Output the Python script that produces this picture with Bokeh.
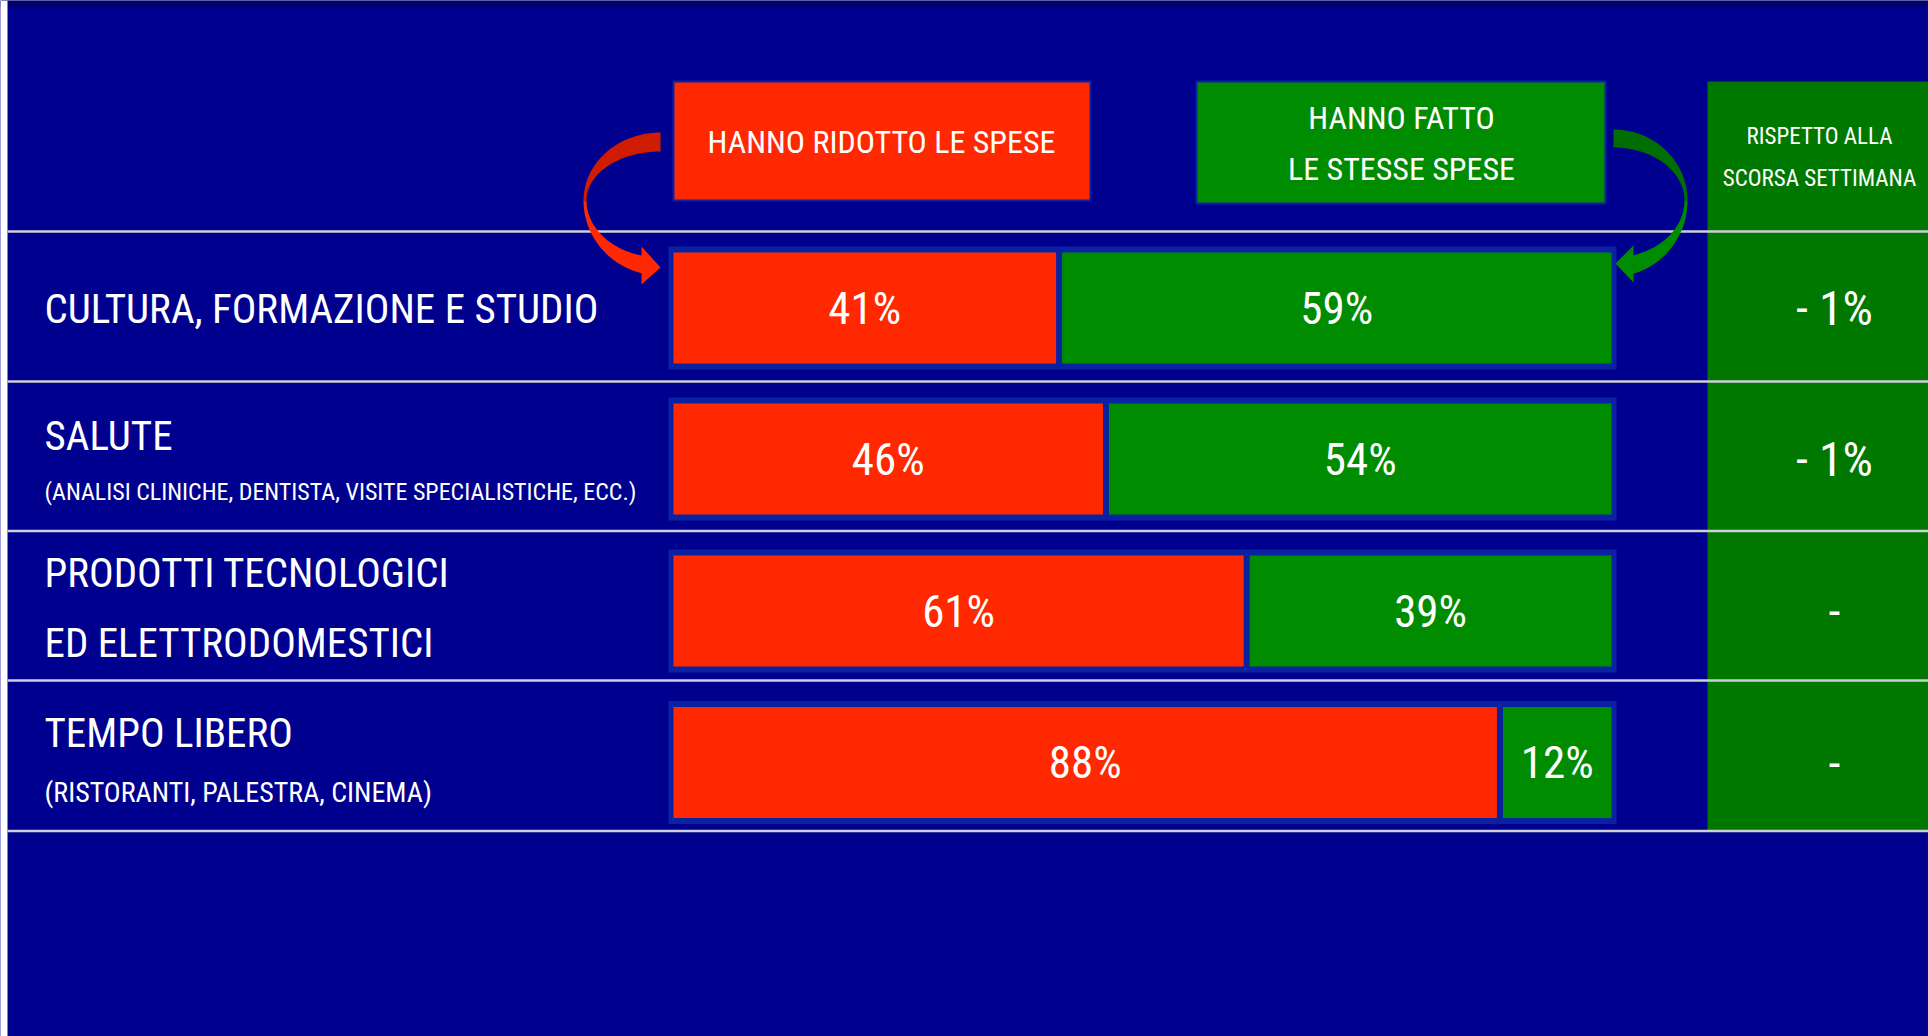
import numpy as np
from bokeh.plotting import figure
from bokeh.models import Range1d, ColumnDataSource
from bokeh.core.properties import value
from bokeh.embed import file_html
from bokeh.resources import INLINE

# ---------------- data ----------------
categories = ["CULTURA, FORMAZIONE E STUDIO", "SALUTE",
              "PRODOTTI TECNOLOGICI\nED ELETTRODOMESTICI", "TEMPO LIBERO"]
subtitles = ["", "(ANALISI CLINICHE, DENTISTA, VISITE SPECIALISTICHE, ECC.)",
             "", "(RISTORANTI, PALESTRA, CINEMA)"]
ridotto = [41, 46, 61, 88]          # hanno ridotto le spese (%)
stesse = [59, 54, 39, 12]           # hanno fatto le stesse spese (%)
variazione = ["- 1%", "- 1%", "-", "-"]  # rispetto alla scorsa settimana
header_ridotto = ["HANNO RIDOTTO LE SPESE"]
header_stesse = ["HANNO FATTO", "LE STESSE SPESE"]
header_var = ["RISPETTO ALLA", "SCORSA SETTIMANA"]

# ---------------- style ----------------
BG = "#00008f"
TOP_STRIP = "#000066"
RED = "#ff2800"
RED_DARK = "#d01c00"
GREEN = "#008c00"
GREEN_DARK = "#006e00"
COL_GREEN = "#007800"
FRAME = "#0a22a2"
LINE = "#cfcfd8"
FONT = value("'Roboto Condensed', 'Liberation Sans Narrow', 'DejaVu Sans Condensed', 'Open Sans', sans-serif")

W, H = 1928, 1036

p = figure(width=W, height=H, x_range=Range1d(0, W), y_range=Range1d(H, 0),
           output_backend="svg", toolbar_location=None, min_border=0,
           x_axis_location=None, y_axis_location=None)
p.grid.visible = False
p.outline_line_color = None
p.background_fill_color = BG
p.border_fill_color = BG

# page edges as in the reference
p.quad(left=0, right=W, top=0, bottom=6, fill_color=TOP_STRIP, line_color=None)
p.quad(left=0, right=7, top=0, bottom=H, fill_color="white", line_color=None)

# layout
row_center = np.array([307.5, 458.5, 610.5, 762.0])
line_y = [231, 381, 530.5, 680, 830.5]
BAR_X0, BAR_X1 = 673.0, 1611.0
BAR_W = BAR_X1 - BAR_X0
BAR_H = 111
FRAME_H = 123

# right column
p.quad(left=1707, right=W, top=81, bottom=830.5, fill_color=COL_GREEN, line_color=None)

# header boxes
p.quad(left=673, right=1090, top=81, bottom=200, fill_color=RED, line_color=FRAME, line_width=2)
p.quad(left=1196, right=1605, top=81, bottom=203, fill_color=GREEN, line_color=FRAME, line_width=2)

# separator lines
for y in line_y:
    p.segment(x0=7, x1=W, y0=y, y1=y, line_color=LINE, line_width=2.5)

# bars
r = np.array(ridotto, dtype=float)
s = np.array(stesse, dtype=float)
boundary = BAR_X0 + r / 100.0 * BAR_W
green_end = BAR_X0 + (r + s) / 100.0 * BAR_W
src = ColumnDataSource(dict(
    y=row_center,
    red_left=np.full(4, BAR_X0), red_right=boundary - 2,
    green_left=boundary + 4, green_right=green_end,
    red_lbl=[f"{v}%" for v in ridotto], green_lbl=[f"{v}%" for v in stesse],
    red_mid=(BAR_X0 + boundary - 2) / 2, green_mid=(boundary + 4 + green_end) / 2,
    var=variazione,
))
p.rect(x=(BAR_X0 + BAR_X1) / 2, y="y", width=BAR_W + 10, height=FRAME_H, source=src,
       fill_color=FRAME, line_color=None)
p.hbar(y="y", left="red_left", right="red_right", height=BAR_H, source=src,
       fill_color=RED, line_color=None)
p.hbar(y="y", left="green_left", right="green_right", height=BAR_H, source=src,
       fill_color=GREEN, line_color=None)

PCT_FS = 45
p.text(x="red_mid", y="y", text="red_lbl", source=src, text_font=FONT,
       text_font_size=value(f"{PCT_FS}px"), text_color="white",
       text_align="center", text_baseline="middle")
p.text(x="green_mid", y="y", text="green_lbl", source=src, text_font=FONT,
       text_font_size=value(f"{PCT_FS}px"), text_color="white",
       text_align="center", text_baseline="middle")
p.text(x=1834, y="y", text="var", source=src, text_font=FONT,
       text_font_size=value("48px"), text_color="white",
       text_align="center", text_baseline="middle")

# arrows
def arrow(cx, cy, rx, ry_ot, ry_it, ry_ob, ry_ib, head_x, tip, hy0, hy1, d):
    t = np.linspace(0, 1, 40)
    ang = t * np.pi / 2
    rx_in = rx - 3
    ox = cx + d * rx * np.sin(ang); oy = cy - ry_ot * np.cos(ang)
    ix = cx + d * rx_in * np.sin(ang); iy = cy - ry_it * np.cos(ang)
    upper = (np.concatenate([ox, ix[::-1]]), np.concatenate([oy, iy[::-1]]))
    dx = abs(head_x - cx)
    amax_o = np.arccos(dx / rx); amax_i = np.arccos(dx / rx_in)
    ao = np.linspace(0, amax_o, 40); ai = np.linspace(0, amax_i, 40)
    lox = cx + d * rx * np.cos(ao); loy = cy + ry_ob * np.sin(ao)
    lix = cx + d * rx_in * np.cos(ai); liy = cy + ry_ib * np.sin(ai)
    hx = [head_x, tip[0], head_x]
    hy = [hy1, tip[1], hy0]
    lower = (np.concatenate([lox, hx, lix[::-1]]), np.concatenate([loy, hy, liy[::-1]]))
    return upper, lower

ru, rl = arrow(660, 200, 77, 68, 49, 75, 57, 641, (660, 267), 246, 284, -1)
p.patch(ru[0], ru[1], fill_color=RED_DARK, line_color=None)
p.patch(rl[0], rl[1], fill_color=RED, line_color=None)
gu, gl = arrow(1613, 200, 74, 71, 53, 76, 57, 1633, (1615, 263), 245, 282, 1)
p.patch(gu[0], gu[1], fill_color=GREEN_DARK, line_color=None)
p.patch(gl[0], gl[1], fill_color=GREEN, line_color=None)

# header texts
HDR_FS = 32
p.text(x=[881], y=[141], text=header_ridotto, text_font=FONT,
       text_font_size=value(f"{HDR_FS}px"), text_color="white",
       text_align="center", text_baseline="middle")
p.text(x=[1401, 1401], y=[117.5, 168.5], text=header_stesse, text_font=FONT,
       text_font_size=value(f"{HDR_FS}px"), text_color="white",
       text_align="center", text_baseline="middle")
p.text(x=[1819, 1819], y=[135.5, 178], text=header_var, text_font=FONT,
       text_font_size=value("23px"), text_color="white",
       text_align="center", text_baseline="middle")

# row labels
LBL_FS = 41
lx, ly, lt = [], [], []
for i, cat in enumerate(categories):
    lines = cat.split("\n")
    c = row_center[i]
    if len(lines) == 2:
        ys = [c - 38, c + 31.5]
    elif subtitles[i]:
        ys = [c - 23.5 if i == 1 else c - 29.5]
    else:
        ys = [c + 1]
    for t_, y_ in zip(lines, ys):
        lx.append(44); ly.append(y_); lt.append(t_)
p.text(x=lx, y=ly, text=lt, text_font=FONT, text_font_size=value(f"{LBL_FS}px"),
       text_color="white", text_align="left", text_baseline="middle")
p.text(x=[44], y=[row_center[1] + 33], text=[subtitles[1]], text_font=FONT,
       text_font_size=value("24px"), text_color="white", text_align="left", text_baseline="middle")
p.text(x=[44], y=[row_center[3] + 29.5], text=[subtitles[3]], text_font=FONT,
       text_font_size=value("28px"), text_color="white", text_align="left", text_baseline="middle")

open("out.html", "w").write(file_html(p, INLINE))
